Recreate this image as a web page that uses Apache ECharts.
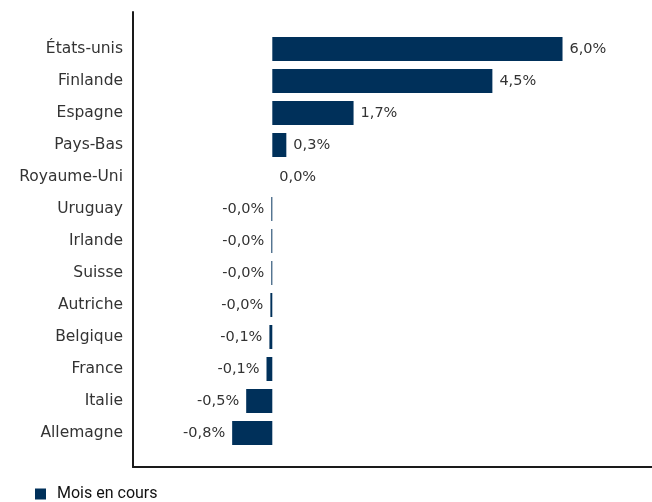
<!DOCTYPE html>
<html>
<head>
<meta charset="utf-8">
<script src="https://cdn.jsdelivr.net/npm/echarts@6/dist/echarts.min.js"></script>
<style>html,body{margin:0;padding:0;background:#fff}#c{width:652px;height:502px}</style>
</head>
<body>
<div id="c"></div>
<script>
const categories = ['États-unis','Finlande','Espagne','Pays-Bas','Royaume-Uni','Uruguay','Irlande','Suisse','Autriche','Belgique','France','Italie','Allemagne'];
const values = [6.0, 4.55, 1.68, 0.29, 0, -0.02, -0.02, -0.02, -0.04, -0.06, -0.12, -0.54, -0.83];
const seriesName = 'Mois en cours';

const FONT = 'DejaVu Sans';
const chart = echarts.init(document.getElementById('c'));
chart.setOption({
  animation: false,
  grid: [
    {left: 133, right: 0, top: 12, bottom: 35},
    {left: 133, right: 0, top: 33, bottom: 53}
  ],
  legend: {
    data: [seriesName], left: 30, top: 481, itemWidth: 11, itemHeight: 11, itemGap: 10,
    icon: 'rect',
    textStyle: {fontFamily: 'Roboto', fontSize: 16, color: '#111', padding: [0, 0, 0, 6]}
  },
  xAxis: [
    {gridIndex: 0, type: 'value', min: 0, max: 1, axisLine: {show: true, lineStyle: {color: '#1a1a1a', width: 2}}, axisTick: {show: false}, axisLabel: {show: false}, splitLine: {show: false}},
    {gridIndex: 1, type: 'value', min: -2.88, max: 7.85, axisLine: {show: false}, axisTick: {show: false}, axisLabel: {show: false}, splitLine: {show: false}}
  ],
  yAxis: [
    {gridIndex: 0, type: 'value', min: 0, max: 1, axisLine: {show: true, lineStyle: {color: '#1a1a1a', width: 2}}, axisTick: {show: false}, axisLabel: {show: false}, splitLine: {show: false}},
    {gridIndex: 1, type: 'category', data: categories, inverse: true, axisLine: {show: false}, axisTick: {show: false},
     axisLabel: {margin: 10, fontFamily: FONT, fontSize: 15.5, color: '#333', padding: [4, 0, 0, 0]}}
  ],
  series: [{
    name: seriesName, type: 'bar', xAxisIndex: 1, yAxisIndex: 1,
    barCategoryGap: '25%',
    itemStyle: {color: '#00305a'},
    data: values.map(v => ({value: v, label: {position: v < 0 ? 'left' : 'right'}})),
    label: {show: true, distance: 7, fontFamily: FONT, fontSize: 14.5, color: '#333', padding: [5, 0, 0, 0],
      formatter: p => p.value.toFixed(1).replace('.', ',') + '%'}
  }]
});
</script>
</body>
</html>
